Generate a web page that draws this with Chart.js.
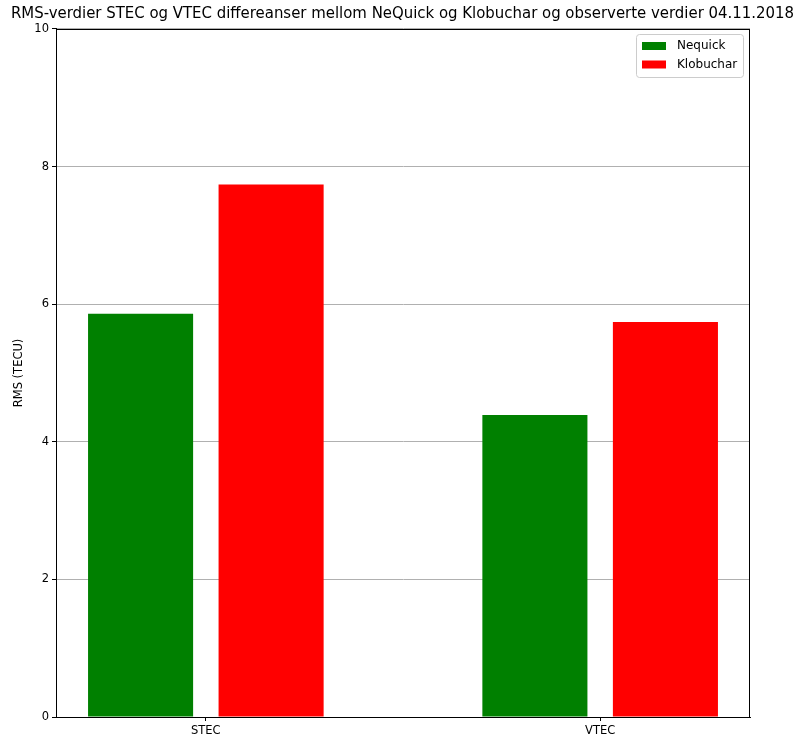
<!DOCTYPE html>
<html>
<head>
<meta charset="utf-8">
<script src="https://cdn.jsdelivr.net/npm/chart.js@4.4.0/dist/chart.umd.min.js"></script>
<style>
  html, body { margin: 0; padding: 0; background: #fff; }
  #wrap { width: 795px; height: 738px; }
</style>
</head>
<body>
<div id="wrap"><canvas id="c" width="795" height="738"></canvas></div>
<script>
// Categories and RMS values (TECU)
const categories = ['STEC', 'VTEC'];
const nequick = [5.86, 4.39];
const klobuchar = [7.74, 5.74];
const yTicks = [0, 2, 4, 6, 8, 10];

const titleText = 'RMS-verdier STEC og VTEC differeanser mellom NeQuick og Klobuchar og observerte verdier 04.11.2018';
const baseFont = "'DejaVu Sans', sans-serif";

// Black box around the plotting area
const framePlugin = {
  id: 'frame',
  afterDatasetsDraw(chart) {
    const { ctx, chartArea: a } = chart;
    ctx.save();
    ctx.strokeStyle = '#000';
    ctx.lineWidth = 1;
    ctx.strokeRect(Math.round(a.left) + 0.5, Math.round(a.top) + 0.5,
                   Math.round(a.right - a.left) - 1, Math.round(a.bottom - a.top));
    ctx.restore();
  }
};

// Legend box drawn inside the upper right corner of the plot
const innerLegend = {
  id: 'innerLegend',
  afterDraw(chart) {
    const { ctx, chartArea: a } = chart;
    const w = 107, h = 43;
    const x = Math.round(a.right) - 6.5 - w, y = Math.round(a.top) + 5.5;
    ctx.save();
    ctx.fillStyle = 'rgba(255,255,255,0.8)';
    ctx.strokeStyle = '#cccccc';
    ctx.lineWidth = 1;
    ctx.beginPath();
    ctx.roundRect(x, y, w, h, 3);
    ctx.fill();
    ctx.stroke();
    ctx.font = "12px " + baseFont;
    ctx.textBaseline = 'middle';
    chart.data.datasets.forEach((ds, i) => {
      const cy = y + 11.5 + i * 18.5;
      ctx.fillStyle = ds.backgroundColor;
      ctx.fillRect(x + 5.5, cy - 4, 24, 8);
      ctx.fillStyle = '#000';
      ctx.fillText(ds.label, x + 40.5, cy);
    });
    ctx.restore();
  }
};

const toPoints = vals => categories.map((c, i) => ({ x: i, y: vals[i] }));

new Chart(document.getElementById('c'), {
  type: 'bar',
  data: {
    datasets: [
      { label: 'Nequick', data: toPoints(nequick), backgroundColor: '#008000' },
      { label: 'Klobuchar', data: toPoints(klobuchar), backgroundColor: '#ff0000' }
    ]
  },
  options: {
    responsive: false,
    animation: false,
    events: [],
    categoryPercentage: 0.662,
    barPercentage: 0.805,
    layout: { padding: { left: 10, right: 0, top: 1, bottom: 0 } },
    plugins: {
      legend: { display: false },
      tooltip: { enabled: false },
      title: {
        display: true,
        text: titleText,
        color: '#000',
        font: { family: "'DejaVu Sans Condensed', 'DejaVu Sans', sans-serif", size: 16.6, weight: 'normal', lineHeight: 1.2 },
        padding: { top: 3, bottom: 5 }
      }
    },
    scales: {
      x: {
        type: 'linear',
        min: -0.38,
        max: 1.38,
        offset: false,
        afterBuildTicks: s => { s.ticks = categories.map((c, i) => ({ value: i })); },
        afterFit: s => { s.height = 21; },
        ticks: {
          callback: v => categories[v],
          color: '#000',
          font: { family: baseFont, size: 11.5 },
          padding: 3,
          maxRotation: 0,
          autoSkip: false
        },
        grid: { offset: false, drawOnChartArea: false, drawTicks: true, tickLength: 4, tickColor: '#000' },
        border: { display: true, color: '#000', width: 1 }
      },
      y: {
        type: 'linear',
        min: 0,
        max: 10,
        z: 1,
        afterBuildTicks: s => { s.ticks = yTicks.map(v => ({ value: v })); },
        afterFit: s => { s.width = 46; },
        ticks: {
          color: '#000',
          font: { family: baseFont, size: 11.5 },
          padding: 3
        },
        grid: { color: '#b0b0b0', lineWidth: 1, tickLength: 4, tickColor: '#000' },
        border: { display: true, color: '#000', width: 1 },
        title: {
          display: true,
          text: 'RMS (TECU)',
          color: '#000',
          font: { family: baseFont, size: 11.5 },
          padding: { top: 2, bottom: 0 }
        }
      },
      yRight: {
        type: 'linear',
        position: 'right',
        display: true,
        afterFit: s => { s.width = 45; },
        ticks: { display: false },
        grid: { drawOnChartArea: false, drawTicks: false },
        border: { display: false }
      }
    }
  },
  plugins: [framePlugin, innerLegend]
});
</script>
</body>
</html>
